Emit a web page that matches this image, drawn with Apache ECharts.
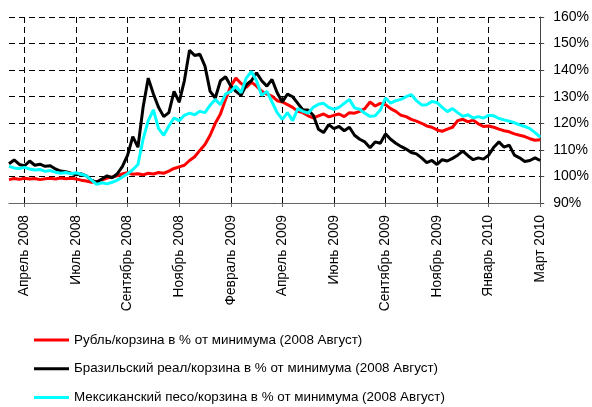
<!DOCTYPE html>
<html>
<head>
<meta charset="utf-8">
<script src="https://cdn.jsdelivr.net/npm/echarts@6/dist/echarts.min.js"></script>
<style>
html, body { margin: 0; padding: 0; background: #fff; }
#main { width: 592px; height: 407px; }
</style>
</head>
<body>
<div id="main"></div>
<script>
var tickLabels = ['Апрель 2008', 'Июль 2008', 'Сентябрь 2008', 'Ноябрь 2008', 'Февраль 2009',
  'Апрель 2009', 'Июнь 2009', 'Сентябрь 2009', 'Ноябрь 2009', 'Январь 2010', 'Март 2010'];
var firstTick = 3;   // point index of the first labelled date
var tickStep = 10;   // points between labelled dates

var seriesNames = [
  'Рубль/корзина в % от минимума (2008 Август)',
  'Бразильский реал/корзина в % от минимума (2008 Август)',
  'Мексиканский песо/корзина в % от минимума (2008 Август)'
];

var rub = [98.8, 99.2, 98.9, 99.3, 99.0, 99.2, 98.8, 99.1, 99.3, 99.0,
  99.4, 99.1, 99.3, 99.0, 98.6, 98.3, 97.8, 98.0, 98.6, 99.4,
  99.8, 100.2, 101.0, 101.4, 100.8, 101.0, 100.6, 101.2, 100.9, 101.5,
  101.2, 102.0, 103.0, 103.6, 104.2, 106.0, 107.4, 109.8, 112.0, 115.5,
  120.0, 123.5, 129.0, 134.0, 137.0, 135.0, 133.5, 135.5, 134.0, 132.0,
  131.0, 130.2, 128.5, 128.0, 127.0, 126.0, 124.5, 124.0, 122.8, 122.0,
  122.8, 123.5, 122.4, 123.0, 123.5, 122.5, 124.0, 123.8, 124.5, 125.5,
  128.0, 126.5, 127.5, 127.0, 125.5, 124.5, 123.0, 122.5, 121.5, 120.8,
  120.0, 119.0, 118.5, 117.5, 117.0, 117.8, 118.5, 121.0, 121.5, 120.5,
  121.2, 119.8, 118.8, 119.0, 118.5, 117.8, 117.2, 116.8, 116.0, 115.5,
  115.0, 114.2, 113.6, 113.8];

var brl = [104.8, 106.2, 104.5, 104.0, 105.8, 104.2, 104.6, 103.8, 104.0, 102.8,
  102.0, 101.8, 101.2, 100.6, 101.0, 100.2, 98.6, 97.8, 99.0, 100.2,
  99.5, 101.0, 103.8, 108.0, 115.0, 111.0, 126.0, 137.0, 131.0, 126.0,
  122.5, 124.0, 132.0, 128.0, 136.0, 147.5, 145.5, 146.0, 141.5, 132.0,
  129.5, 136.0, 137.5, 134.0, 132.0, 130.5, 134.5, 136.0, 139.0, 136.0,
  134.0, 136.5, 131.5, 128.0, 131.0, 130.0, 127.5, 125.0, 125.0, 123.0,
  117.8, 116.5, 119.5, 118.0, 118.8, 117.2, 118.5, 115.5, 114.0, 113.0,
  110.8, 113.0, 112.5, 116.0, 114.0, 112.5, 111.3, 110.3, 109.0, 108.5,
  107.0, 105.2, 106.0, 104.5, 106.3, 105.8, 106.8, 108.0, 109.5, 107.8,
  106.3, 107.0, 106.5, 108.0, 111.0, 113.0, 111.0, 111.8, 108.0, 107.0,
  105.6, 106.0, 107.0, 106.0];

var mxn = [103.8, 103.2, 103.0, 103.4, 102.8, 102.4, 102.6, 101.9, 102.2, 101.6,
  101.2, 101.5, 101.0, 101.4, 100.8, 100.2, 98.6, 97.0, 97.6, 97.2,
  97.8, 98.6, 99.8, 101.0, 102.5, 104.5, 114.0, 121.0, 125.0, 118.0,
  115.5, 119.0, 122.0, 121.0, 123.0, 123.8, 123.2, 124.5, 124.0, 126.8,
  129.0, 127.0, 131.0, 132.0, 134.0, 131.5, 137.0, 139.5, 136.0, 130.5,
  132.0, 128.0, 124.0, 121.5, 124.0, 121.0, 125.5, 124.5, 123.8, 126.0,
  127.2, 127.5, 126.0, 125.2, 126.0, 127.5, 129.0, 125.8, 125.3, 123.8,
  122.6, 122.8, 125.0, 129.5, 127.6, 128.5, 129.0, 130.0, 130.8, 128.5,
  126.9, 127.0, 128.2, 127.8, 126.0, 124.4, 125.5, 124.0, 122.6, 123.2,
  122.0, 122.5, 122.0, 123.0, 122.8, 121.8, 121.3, 120.8, 120.2, 119.4,
  118.8, 118.0, 116.5, 114.8];

// category labels: only the labelled dates carry text
var categories = rub.map(function (v, i) {
  var k = (i - firstTick) / tickStep;
  return (k >= 0 && k === Math.floor(k) && tickLabels[k]) ? tickLabels[k] : '';
});
var isTick = function (idx, val) { return val !== ''; };

var font = '"Liberation Sans", Arial, sans-serif';

var chart = echarts.init(document.getElementById('main'));
chart.setOption({
  animation: false,
  backgroundColor: '#fff',
  color: ['#ff0000', '#000000', '#00ffff'],
  grid: { left: 9, right: 50, top: 17, bottom: 204 },
  legend: {
    orient: 'vertical',
    left: 34,
    top: 332,
    height: 75,
    padding: 0,
    icon: 'rect',
    itemWidth: 35,
    itemHeight: 3,
    itemGap: 12.7,
    textStyle: { fontFamily: font, fontSize: 13.4, color: '#000', lineHeight: 16 },
    data: seriesNames
  },
  xAxis: {
    type: 'category',
    boundaryGap: false,
    data: categories,
    axisLine: { lineStyle: { color: '#666', width: 1 } },
    axisTick: { interval: isTick, length: 4, lineStyle: { color: '#666' } },
    axisLabel: { interval: isTick, rotate: 90, margin: 12, fontFamily: font, fontSize: 13.8, color: '#000' },
    splitLine: { show: true, interval: isTick, lineStyle: { color: '#000', type: [6, 4], width: 1 } }
  },
  yAxis: {
    type: 'value',
    position: 'right',
    min: 90,
    max: 160,
    interval: 10,
    axisLine: { show: true, lineStyle: { color: '#444', width: 1 } },
    axisTick: { show: true, length: 4, lineStyle: { color: '#444' } },
    axisLabel: { formatter: '{value}%', margin: 13, fontFamily: font, fontSize: 14, color: '#000' },
    splitLine: { show: true, lineStyle: { color: '#000', type: [6, 4], width: 1 } }
  },
  series: [
    { name: seriesNames[0], type: 'line', data: rub, showSymbol: false, lineStyle: { width: 3 } },
    { name: seriesNames[1], type: 'line', data: brl, showSymbol: false, lineStyle: { width: 3 } },
    { name: seriesNames[2], type: 'line', data: mxn, showSymbol: false, lineStyle: { width: 3 } }
  ]
});
</script>
</body>
</html>
